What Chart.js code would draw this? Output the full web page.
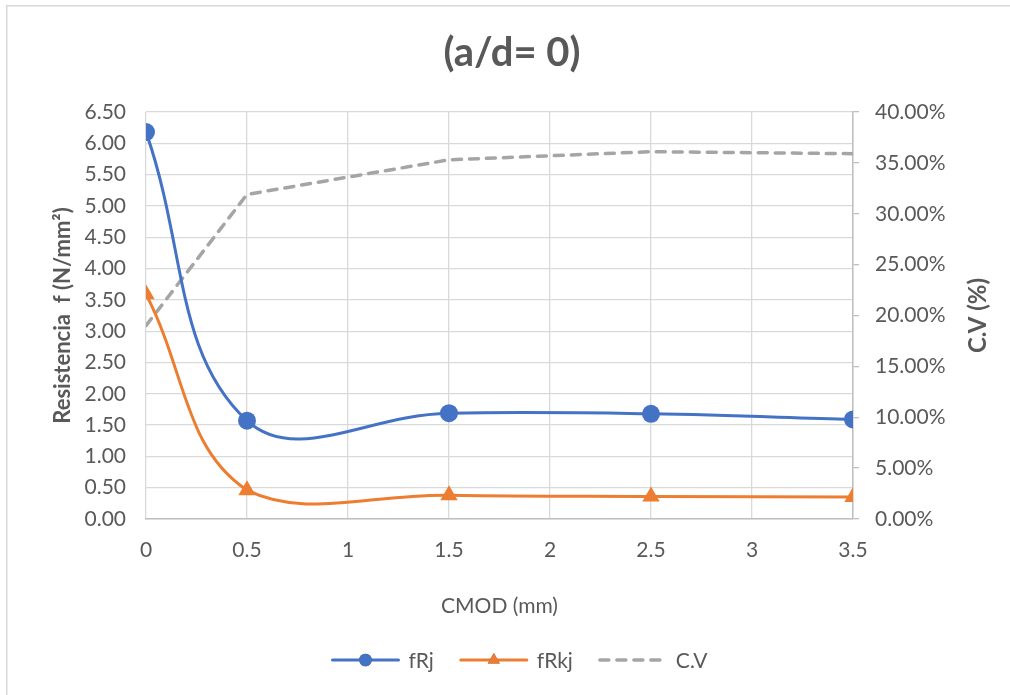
<!DOCTYPE html>
<html>
<head>
<meta charset="utf-8">
<script src="https://cdn.jsdelivr.net/npm/chart.js@4.4.1/dist/chart.umd.min.js"></script>
<style>
  html, body { margin: 0; padding: 0; background: #fff; }
  #wrap { width: 1010px; height: 695px; }
</style>
</head>
<body>
<div id="wrap"><canvas id="cvChart" width="1010" height="695"></canvas></div>
<script>
'use strict';
// CMOD (mm) and measured strengths
const cmod = [0, 0.5, 1.5, 2.5, 3.5];
const fRj = [6.18, 1.57, 1.69, 1.68, 1.59];
const fRkj = [3.59, 0.46, 0.38, 0.36, 0.35];
const cv = [0.190, 0.319, 0.353, 0.361, 0.359];

const chartTitle = '(a/d= 0)';
const xTitle = 'CMOD (mm)';
const yTitle = 'Resistencia  f (N/mm²)';
const y1Title = 'C.V (%)';

const textGrey = '#595959';
const gridGrey = '#d9d9d9';
const axisGrey = '#bfbfbf';
const fontFam = 'Lato, "Open Sans", sans-serif';
const tickSize = 21;

const toPoints = function (ys) {
    return cmod.map((x, i) => ({ x: x, y: ys[i] }));
};

// title, axis titles, legend and the outer frame
const decor = {
    id: 'decor',
    beforeDraw(chart) {
        const ctx = chart.ctx;
        ctx.save();
        ctx.fillStyle = '#fff';
        ctx.fillRect(0, 0, chart.width, chart.height);
        ctx.strokeStyle = gridGrey;
        ctx.lineWidth = 1.5;
        ctx.beginPath();
        ctx.moveTo(6.75, chart.height);
        ctx.lineTo(6.75, 5.75);
        ctx.lineTo(chart.width, 5.75);
        ctx.stroke();
        ctx.restore();
    },
    afterDraw(chart) {
        const ctx = chart.ctx;
        const area = chart.chartArea;
        const midY = (area.top + area.bottom) / 2;
        ctx.save();
        ctx.fillStyle = textGrey;
        ctx.textAlign = 'center';
        ctx.textBaseline = 'middle';

        ctx.font = `bold 40px ${fontFam}`;
        ctx.fillText(chartTitle, 512, 53);

        ctx.font = `${tickSize}px ${fontFam}`;
        ctx.fillText(xTitle, (area.left + area.right) / 2, 606);

        ctx.font = `bold 22px ${fontFam}`;
        ctx.save();
        ctx.translate(63, midY);
        ctx.rotate(-Math.PI / 2);
        ctx.fillText(yTitle, 0, 0);
        ctx.restore();

        ctx.font = `bold 24px ${fontFam}`;
        ctx.save();
        ctx.translate(978, midY);
        ctx.rotate(-Math.PI / 2);
        ctx.fillText(y1Title, 0, 0);
        ctx.restore();

        // legend: line sample with marker, then the label
        ctx.font = `${tickSize}px ${fontFam}`;
        const lineLen = 70, gap = 8, spacing = 25;
        const sets = chart.data.datasets;
        let total = 0;
        sets.forEach((ds, i) => {
            total += lineLen + gap + ctx.measureText(ds.label).width;
            if (i < sets.length - 1) total += spacing;
        });
        let x = chart.width / 2 + 14 - total / 2;
        const ly = 660;
        ctx.textAlign = 'left';
        sets.forEach((ds) => {
            ctx.save();
            ctx.strokeStyle = ds.borderColor;
            ctx.lineWidth = ds.borderWidth;
            ctx.lineCap = 'round';
            ctx.setLineDash(ds.borderDash || []);
            ctx.beginPath();
            ctx.moveTo(x + 2, ly);
            ctx.lineTo(x + lineLen - 2, ly);
            ctx.stroke();
            ctx.restore();
            if (ds.pointRadius > 0) {
                Chart.helpers.drawPoint(ctx, {
                    pointStyle: ds.pointStyle,
                    radius: ds.pointRadius * 0.7,
                    rotation: 0,
                    borderWidth: 0
                }, x + lineLen / 2, ly);
                ctx.fillStyle = ds.pointBackgroundColor;
                ctx.fill();
            }
            ctx.fillStyle = textGrey;
            ctx.fillText(ds.label, x + lineLen + gap, ly + 1);
            x += lineLen + gap + ctx.measureText(ds.label).width + spacing;
        });
        ctx.restore();
    }
};

const loadChart = function () {
    const ctx = document.getElementById('cvChart').getContext('2d');
    Chart.defaults.font.family = fontFam;
    Chart.defaults.color = textGrey;

    new Chart(ctx, {
        type: 'line',
        data: {
            datasets: [{
                label: 'fRj',
                data: toPoints(fRj),
                yAxisID: 'y',
                borderColor: '#4472c4',
                backgroundColor: '#4472c4',
                pointBackgroundColor: '#4472c4',
                borderWidth: 3,
                pointStyle: 'circle',
                pointRadius: 9,
                pointBorderWidth: 0,
                tension: 0.4
            }, {
                label: 'fRkj',
                data: toPoints(fRkj),
                yAxisID: 'y',
                borderColor: '#ed7d31',
                backgroundColor: '#ed7d31',
                pointBackgroundColor: '#ed7d31',
                borderWidth: 3,
                pointStyle: 'triangle',
                pointRadius: 10,
                pointBorderWidth: 0,
                tension: 0.4
            }, {
                label: 'C.V',
                data: toPoints(cv),
                yAxisID: 'y1',
                borderColor: '#a5a5a5',
                backgroundColor: '#a5a5a5',
                pointBackgroundColor: '#a5a5a5',
                borderWidth: 3.5,
                borderDash: [9, 8],
                borderCapStyle: 'round',
                pointRadius: 0,
                tension: 0
            }]
        },
        options: {
            responsive: false,
            animation: false,
            devicePixelRatio: 1,
            layout: { padding: { top: 112, left: 0, right: 0, bottom: 0 } },
            plugins: {
                legend: { display: false },
                title: { display: false },
                tooltip: { enabled: false }
            },
            scales: {
                x: {
                    type: 'linear',
                    min: 0,
                    max: 3.5,
                    ticks: {
                        stepSize: 0.5,
                        padding: 19,
                        font: { size: tickSize },
                        callback: (v) => String(+v.toFixed(2))
                    },
                    grid: { color: gridGrey, lineWidth: 1.3, drawTicks: false },
                    border: { color: axisGrey, width: 1.5 },
                    afterFit: (s) => { s.height = 176; }
                },
                y: {
                    position: 'left',
                    min: 0,
                    max: 6.5,
                    ticks: {
                        stepSize: 0.5,
                        padding: 20,
                        font: { size: tickSize },
                        callback: (v) => v.toFixed(2)
                    },
                    grid: { color: gridGrey, lineWidth: 1.3, drawTicks: false },
                    border: { display: false },
                    afterFit: (s) => { s.width = 146; }
                },
                y1: {
                    position: 'right',
                    min: 0,
                    max: 0.4,
                    ticks: {
                        stepSize: 0.05,
                        padding: 16,
                        font: { size: tickSize },
                        callback: (v) => (v * 100).toFixed(2) + '%'
                    },
                    grid: {
                        drawOnChartArea: false,
                        drawTicks: true,
                        tickLength: 6,
                        color: axisGrey,
                        lineWidth: 1.3
                    },
                    border: { color: axisGrey, width: 1.5 },
                    afterFit: (s) => { s.width = 157; }
                }
            }
        },
        plugins: [decor]
    });
};

document.addEventListener('DOMContentLoaded', function () {
    loadChart();
});
</script>
</body>
</html>
